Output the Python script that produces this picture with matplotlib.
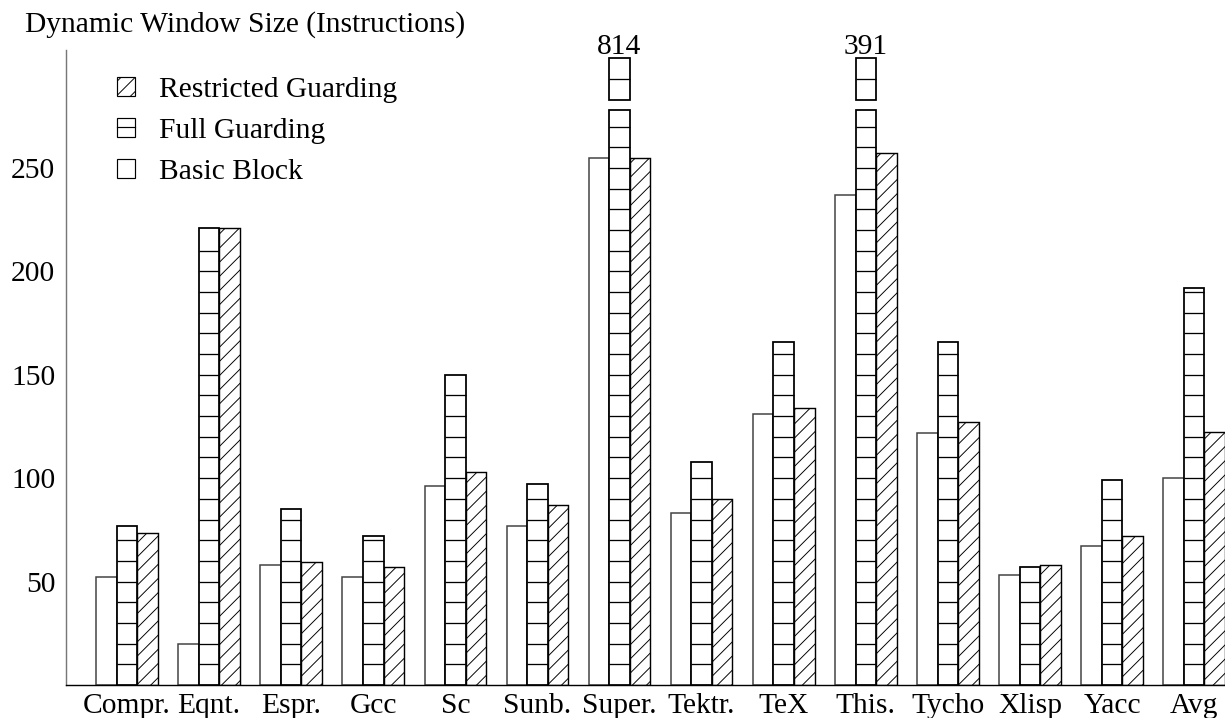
import numpy as np
import matplotlib
matplotlib.use('Agg')
import matplotlib.pyplot as plt
from matplotlib.patches import Rectangle, Patch
from matplotlib.lines import Line2D
from matplotlib.legend_handler import HandlerBase

# values
categories = ['Compr.', 'Eqnt.', 'Espr.', 'Gcc', 'Sc', 'Sunb.', 'Super.',
              'Tektr.', 'TeX', 'This.', 'Tycho', 'Xlisp', 'Yacc', 'Avg']
basic_block = [52, 20, 58, 52, 96, 77, 255, 83, 131, 237, 122, 53, 67, 100]
full_guarding = [77, 221, 85, 72, 150, 97, 814, 108, 166, 391, 166, 57, 99, 192]
restricted_guarding = [73.5, 221, 59.5, 57, 103, 87, 255, 90, 134, 257, 127, 58, 72, 122.5]
yticks = [50, 100, 150, 200, 250]

# broken bar: bars taller than this are cut and a small stub drawn above
BREAK_LOW = 278
STUB_BOTTOM = 283
STUB_TOP = 303
STEP = 10   # spacing of the lines inside the full guarding bars

DPI = 85
FS = 25.0
plt.rcParams['font.family'] = ['Liberation Serif', 'DejaVu Serif']
plt.rcParams['hatch.linewidth'] = 0.8


class FullHandler(HandlerBase):
    def create_artists(self, legend, orig_handle, xdescent, ydescent,
                       width, height, fontsize, trans):
        r = Rectangle((-xdescent, -ydescent), width, height, fc='white',
                      ec='black', lw=1, transform=trans)
        l = Line2D([-xdescent, -xdescent + width], [-ydescent + height / 2] * 2,
                   color='black', lw=1, transform=trans)
        return [r, l]


fig = plt.figure(figsize=(1225 / DPI, 718 / DPI), dpi=DPI)
ax = fig.add_axes([66 / 1225, 1 - 685 / 718, (1225 - 66) / 1225, (685 - 50) / 718])

x = np.arange(len(categories))
w = 0.25

ax.bar(x - w, basic_block, w, color='white', edgecolor='#444444', lw=1.3, zorder=2)
ax.bar(x + w, restricted_guarding, w, color='white', edgecolor='black', lw=1.2,
       hatch='//', zorder=2)

full_drawn = [min(v, BREAK_LOW) for v in full_guarding]
ax.bar(x, full_drawn, w, color='white', edgecolor='black', lw=1.5, zorder=3)
for xi, h in zip(x, full_drawn):
    ys = np.arange(STEP, h - 1, STEP)
    ax.hlines(ys, xi - w / 2, xi + w / 2, color='black', lw=1.1, zorder=4)

# stubs for the cut bars
for xi, v in zip(x, full_guarding):
    if v > BREAK_LOW:
        ax.bar(xi, STUB_TOP - STUB_BOTTOM, w, bottom=STUB_BOTTOM, color='white',
               edgecolor='black', lw=1.5, zorder=3, clip_on=False)
        ax.hlines((STUB_TOP + STUB_BOTTOM) / 2, xi - w / 2, xi + w / 2,
                  color='black', lw=1.1, zorder=4, clip_on=False)
        ax.text(xi, STUB_TOP + 2, str(v), ha='center', va='baseline',
                fontsize=FS, clip_on=False)

ax.set_xlim(-0.743, len(categories) - 1 + 1.5 * w)
ax.set_ylim(0, 307)
ax.set_xticks(x)
ax.set_xticklabels(categories, fontsize=FS)
ax.set_yticks(yticks)
ax.set_yticklabels([str(t) for t in yticks], fontsize=FS)
ax.tick_params(axis='both', length=0)
ax.tick_params(axis='y', pad=9)
ax.tick_params(axis='x', pad=7)

ax.spines['top'].set_visible(False)
ax.spines['right'].set_visible(False)
ax.spines['left'].set_color('#777777')
ax.spines['left'].set_linewidth(1.2)
ax.spines['bottom'].set_color('black')
ax.spines['bottom'].set_linewidth(1.2)

fig.text(25 / 1225, 1 - 25 / 718, 'Dynamic Window Size (Instructions)',
         fontsize=FS, ha='left', va='center')

h_restr = Patch(fc='white', ec='black', hatch='//', lw=1)
h_full = Patch(fc='white', ec='black', lw=1)
h_basic = Patch(fc='white', ec='black', lw=1)
ax.legend([h_restr, h_full, h_basic],
          ['Restricted Guarding', 'Full Guarding', 'Basic Block'],
          handler_map={h_full: FullHandler()},
          loc='upper left', bbox_to_anchor=(117 / 1225, 1 - 77 / 718),
          bbox_transform=fig.transFigure, frameon=False, fontsize=FS,
          borderpad=0, borderaxespad=0, handlelength=0.62, handleheight=0.62,
          handletextpad=0.8, labelspacing=0.5)

fig.savefig('out.png', dpi=DPI)
